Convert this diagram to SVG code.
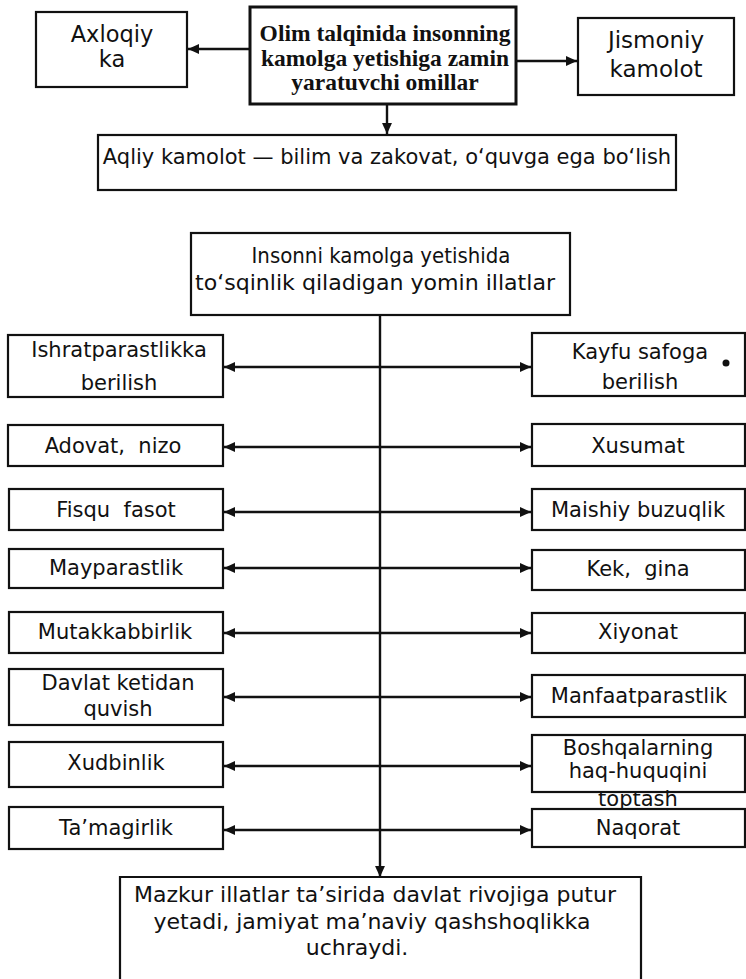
<svg xmlns="http://www.w3.org/2000/svg" width="746" height="979" viewBox="0 0 746 979">
<style>
  .box{fill:#fff;stroke:#111;stroke-width:2.2}
  .bold{stroke-width:3}
  .t{font-family:"DejaVu Sans","Liberation Sans",sans-serif;font-size:21px;fill:#111;text-anchor:middle}
  .big{font-size:22.5px}
  .lg{font-size:22px}
  .b{font-family:"Liberation Serif","DejaVu Serif",serif;font-size:23.5px;font-weight:bold;fill:#111;text-anchor:middle}
  .c{fill:none;stroke:#111;stroke-width:2.4}
</style>
<defs>
  <marker id="ah" viewBox="0 0 10 10" refX="10" refY="5" markerWidth="4.6" markerHeight="4.6" orient="auto-start-reverse" markerUnits="strokeWidth">
    <path d="M0,0.5 L10,5 L0,9.5 Z" fill="#111"/>
  </marker>
</defs>

<g id="connectors">
  <line class="c" x1="250" y1="49" x2="188" y2="49" marker-end="url(#ah)"/>
  <line class="c" x1="516" y1="61" x2="577" y2="61" marker-end="url(#ah)"/>
  <line class="c" x1="387" y1="104" x2="387" y2="134" marker-end="url(#ah)"/>
  <line class="c" x1="380" y1="315" x2="380" y2="877" marker-end="url(#ah)"/>
  <line class="c" x1="224" y1="367" x2="531" y2="367" marker-start="url(#ah)" marker-end="url(#ah)"/>
  <line class="c" x1="224" y1="447" x2="531" y2="447" marker-start="url(#ah)" marker-end="url(#ah)"/>
  <line class="c" x1="224" y1="512" x2="531" y2="512" marker-start="url(#ah)" marker-end="url(#ah)"/>
  <line class="c" x1="224" y1="568" x2="531" y2="568" marker-start="url(#ah)" marker-end="url(#ah)"/>
  <line class="c" x1="224" y1="633" x2="531" y2="633" marker-start="url(#ah)" marker-end="url(#ah)"/>
  <line class="c" x1="224" y1="697" x2="531" y2="697" marker-start="url(#ah)" marker-end="url(#ah)"/>
  <line class="c" x1="224" y1="766" x2="531" y2="766" marker-start="url(#ah)" marker-end="url(#ah)"/>
  <line class="c" x1="224" y1="830" x2="531" y2="830" marker-start="url(#ah)" marker-end="url(#ah)"/>
</g>

<g id="axloqiy">
  <rect class="box" x="36" y="12" width="151" height="75"/>
  <text class="t big" x="112" y="42">Axloqiy</text>
  <text class="t big" x="112" y="67">ka</text>
</g>
<g id="olim">
  <rect class="box bold" x="250" y="7" width="266" height="97"/>
  <text class="b" x="385" y="41">Olim talqinida insonning</text>
  <text class="b" x="385" y="66">kamolga yetishiga zamin</text>
  <text class="b" x="385" y="90">yaratuvchi omillar</text>
</g>
<g id="jismoniy">
  <rect class="box" x="578" y="18" width="156" height="77"/>
  <text class="t" x="656" y="48" style="font-size:23px">Jismoniy</text>
  <text class="t" x="656" y="77" style="font-size:23px">kamolot</text>
</g>
<g id="aqliy">
  <rect class="box" x="98" y="135" width="578" height="55"/>
  <text class="t" x="387" y="164">Aqliy kamolot — bilim va zakovat, o‘quvga ega bo‘lish</text>
</g>

<g id="illatlar">
  <rect class="box" x="191" y="233" width="379" height="82"/>
  <text class="t" x="381" y="263" textLength="259" lengthAdjust="spacingAndGlyphs">Insonni kamolga yetishida</text>
  <text class="t" x="375" y="290" textLength="360" lengthAdjust="spacingAndGlyphs">to‘sqinlik qiladigan yomin illatlar</text>
</g>

<g id="l1"><rect class="box" x="8" y="335" width="215" height="62"/>
  <text class="t" x="119" y="357">Ishratparastlikka</text><text class="t" x="119" y="390">berilish</text></g>
<g id="l2"><rect class="box" x="8" y="425" width="215" height="41"/>
  <text class="t" x="113" y="453" xml:space="preserve">Adovat,  nizo</text></g>
<g id="l3"><rect class="box" x="9" y="489" width="214" height="41"/>
  <text class="t" x="116" y="517" xml:space="preserve">Fisqu  fasot</text></g>
<g id="l4"><rect class="box" x="9" y="549" width="214" height="39"/>
  <text class="t" x="116" y="575">Mayparastlik</text></g>
<g id="l5"><rect class="box" x="9" y="612" width="214" height="41"/>
  <text class="t" x="115" y="639">Mutakkabbirlik</text></g>
<g id="l6"><rect class="box" x="9" y="669" width="214" height="56"/>
  <text class="t" x="118" y="690">Davlat ketidan</text><text class="t" x="118" y="716">quvish</text></g>
<g id="l7"><rect class="box" x="9" y="742" width="214" height="45"/>
  <text class="t" x="116" y="770">Xudbinlik</text></g>
<g id="l8"><rect class="box" x="9" y="807" width="214" height="42"/>
  <text class="t" x="116" y="835">Ta’magirlik</text></g>

<g id="r1"><rect class="box" x="532" y="333" width="213" height="63"/>
  <text class="t" x="640" y="359">Kayfu safoga</text><text class="t" x="640" y="389">berilish</text>
  <circle cx="726" cy="363" r="3.5" fill="#111"/></g>
<g id="r2"><rect class="box" x="532" y="424" width="213" height="42"/>
  <text class="t" x="638" y="453">Xusumat</text></g>
<g id="r3"><rect class="box" x="532" y="489" width="213" height="41"/>
  <text class="t" x="638" y="517">Maishiy buzuqlik</text></g>
<g id="r4"><rect class="box" x="532" y="550" width="213" height="40"/>
  <text class="t" x="638" y="576" xml:space="preserve">Kek,  gina</text></g>
<g id="r5"><rect class="box" x="532" y="613" width="213" height="40"/>
  <text class="t" x="638" y="639">Xiyonat</text></g>
<g id="r6"><rect class="box" x="532" y="675" width="213" height="42"/>
  <text class="t" x="639" y="703">Manfaatparastlik</text></g>
<g id="r7"><rect class="box" x="532" y="735" width="213" height="57"/>
  <text class="t" x="638" y="755">Boshqalarning</text><text class="t" x="638" y="778">haq-huquqini</text>
  <text class="t" x="638" y="806">toptash</text></g>
<g id="r8"><rect class="box" x="532" y="809" width="213" height="38"/>
  <text class="t" x="638" y="835">Naqorat</text></g>

<g id="mazkur">
  <path d="M120,985 V877 H641 V985" fill="#fff" stroke="#111" stroke-width="2.2"/>
  <text class="t lg" x="375" y="902">Mazkur illatlar ta’sirida davlat rivojiga putur</text>
  <text class="t lg" x="372" y="929">yetadi, jamiyat ma’naviy qashshoqlikka</text>
  <text class="t lg" x="357" y="955">uchraydi.</text>
</g>
</svg>
